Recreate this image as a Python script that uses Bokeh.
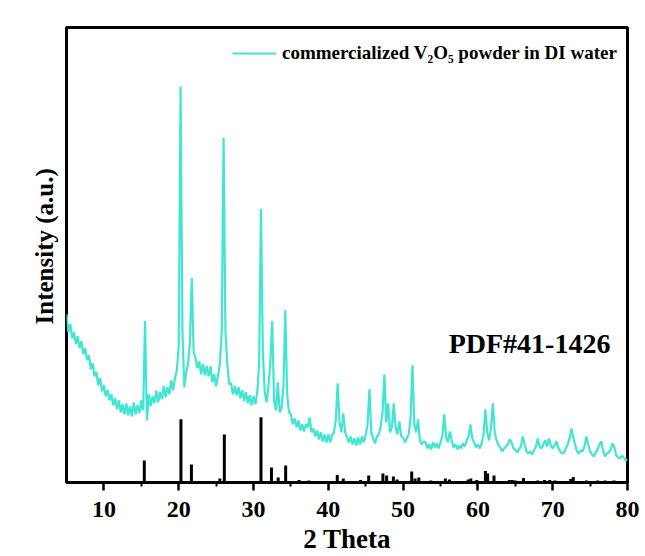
from bokeh.plotting import figure
from bokeh.models import FixedTicker, Label, Legend, LegendItem, Range1d, ColumnDataSource, Title
from bokeh.embed import file_html
from bokeh.resources import INLINE

# ---- data ----
# measured intensity (a.u.) sampled every 0.25 deg from 5 to 80 deg (2 theta)
scan_start = 5.0
scan_step = 0.25
intensity = [
    168, 150, 158, 144,   # 5
    150, 138, 146, 134,   # 6
    141, 128, 134, 122,   # 7
    127, 113, 119, 106,   # 8
    110, 97, 104, 91,     # 9
    97, 86, 92, 82,       # 10
    88, 77, 84, 73,       # 11
    82, 70, 78, 68,       # 12
    79, 67, 76, 66,       # 13
    80, 68, 77, 69,       # 14
    82, 72, 161, 62,      # 15
    88, 76, 86, 79,       # 16
    92, 80, 90, 83,       # 17
    96, 85, 95, 88,       # 18
    102, 92, 104, 112,    # 19
    135, 395, 150, 95,    # 20
    110, 118, 140, 204,   # 21
    130, 124, 114, 121,   # 22
    108, 118, 107, 116,   # 23
    106, 116, 100, 108,   # 24
    96, 106, 118, 150,    # 25
    344, 150, 118, 98,    # 26
    99, 88, 96, 87,       # 27
    95, 84, 92, 81,       # 28
    90, 79, 87, 77,       # 29
    86, 78, 90, 118,      # 30
    273, 130, 90, 80,     # 31
    96, 120, 161, 82,     # 32
    72, 100, 70, 74,      # 33
    95, 172, 88, 70,      # 34
    68, 58, 64, 55,       # 35
    62, 52, 58, 51,       # 36
    58, 55, 65, 50,       # 37
    54, 46, 52, 43,       # 38
    50, 41, 48, 40,       # 39
    48, 40, 47, 50,       # 40
    62, 99, 60, 50,       # 41
    69, 50, 45, 40,       # 42
    46, 38, 44, 37,       # 43
    45, 38, 46, 40,       # 44
    48, 58, 93, 50,       # 45
    44, 39, 46, 48,       # 46
    56, 70, 108, 60,      # 47
    79, 50, 55, 79,       # 48
    55, 48, 61, 46,       # 49
    45, 40, 44, 48,       # 50
    65, 117, 58, 50,      # 51
    63, 42, 38, 41,       # 52
    40, 34, 38, 33,       # 53
    40, 35, 39, 34,       # 54
    40, 46, 68, 45,       # 55
    40, 51, 42, 35,       # 56
    38, 33, 37, 34,       # 57
    39, 36, 42, 46,       # 58
    58, 44, 40, 35,       # 59
    38, 34, 39, 48,       # 60
    73, 50, 42, 55,       # 61
    79, 50, 42, 37,       # 62
    35, 31, 34, 36,       # 63
    38, 43, 40, 34,       # 64
    33, 30, 33, 36,       # 65
    46, 38, 31, 29,       # 66
    31, 28, 32, 36,       # 67
    44, 36, 34, 38,       # 68
    42, 36, 44, 37,       # 69
    34, 37, 41, 35,       # 70
    31, 29, 30, 34,       # 71
    38, 44, 54, 45,       # 72
    38, 31, 29, 32,       # 73
    31, 36, 46, 38,       # 74
    31, 28, 26, 30,       # 75
    33, 38, 41, 31,       # 76
    26, 29, 30, 33,       # 77
    39, 35, 27, 25,       # 78
    24, 27, 25, 22,       # 79
    23,                   # 80
]
two_theta = [scan_start + scan_step * i for i in range(len(intensity))]

# reference pattern PDF#41-1426 (stick positions and relative heights)
pdf_positions = [15.4, 20.3, 21.7, 25.5, 26.1, 31.0, 32.4, 33.3, 34.3, 36.1, 37.4,
                 41.2, 42.0, 44.3, 45.4, 47.3, 47.8, 48.7, 49.2, 51.15, 51.6, 52.1,
                 53.7, 55.65, 56.2, 58.7, 59.05, 59.85, 61.0, 61.3, 62.15, 64.2,
                 64.6, 65.0, 66.1, 68.0, 68.9, 69.6, 70.3, 72.4, 72.75, 74.5, 76.0,
                 77.0, 78.2]
pdf_heights = [22, 63, 18, 4, 48, 65, 15, 5, 17, 2.5, 2,
               7.5, 4, 2.5, 7, 9, 7, 6, 3, 11, 4, 5,
               2, 4, 3, 3, 4, 2.5, 11.5, 9, 7, 2.5,
               2.5, 2, 4.5, 2, 2.5, 2.5, 2, 3.5, 5.5, 2, 2,
               2, 2]

x_major_ticks = [10, 20, 30, 40, 50, 60, 70, 80]
x_minor_ticks = [15, 25, 35, 45, 55, 65, 75]

series_label = "commercialized V\u2082O\u2085 powder in DI water"
pdf_label = "PDF#41-1426"
x_title = "2 Theta"
y_title = "Intensity (a.u.)"

# ---- styling ----
FONT = "Liberation Serif"
CYAN = "#40E6D2"

p = figure(width=645, height=556, output_backend="svg", toolbar_location=None,
           x_range=Range1d(5, 80), y_range=Range1d(0, 454),
           min_border_left=66, min_border_right=18, min_border_top=27, min_border_bottom=74)

p.background_fill_color = "white"
p.border_fill_color = "white"
p.outline_line_color = "black"
p.outline_line_width = 3
p.xgrid.visible = False
p.ygrid.visible = False
p.yaxis.visible = False

xa = p.xaxis[0]
xa.ticker = FixedTicker(ticks=x_major_ticks, minor_ticks=x_minor_ticks)
xa.axis_line_width = 3
xa.axis_line_color = "black"
xa.major_tick_line_width = 2.5
xa.major_tick_in = 0
xa.major_tick_out = 8
xa.minor_tick_line_width = 2
xa.minor_tick_in = 0
xa.minor_tick_out = 4
xa.major_label_text_font = FONT
xa.major_label_text_font_style = "bold"
xa.major_label_text_font_size = "24px"
xa.major_label_text_color = "black"
xa.major_label_text_line_height = 1.0
xa.major_label_standoff = 11
xa.axis_label = x_title
xa.axis_label_text_font = FONT
xa.axis_label_text_font_style = "bold"
xa.axis_label_text_font_size = "27px"
xa.axis_label_text_color = "black"
xa.axis_label_text_line_height = 0.9
xa.axis_label_standoff = 4

p.add_layout(Title(text=y_title, align="left", offset=158, standoff=17,
                   text_font=FONT, text_font_style="bold", text_font_size="25px",
                   text_color="black"), "left")

trace = p.line(two_theta, intensity, line_color=CYAN, line_width=2.2)

sticks = ColumnDataSource(dict(x=pdf_positions, h=pdf_heights))
p.segment(x0="x", y0=0, x1="x", y1="h", source=sticks, line_color="black", line_width=3)

legend = Legend(items=[LegendItem(label=series_label, renderers=[trace])],
                location=(166, 418), margin=0, padding=0, spacing=0,
                glyph_width=44, glyph_height=20, label_standoff=6,
                label_text_font=FONT, label_text_font_style="bold",
                label_text_font_size="19px", label_text_color="black",
                border_line_color=None, background_fill_alpha=0)
p.add_layout(legend)

p.add_layout(Label(x=66.9, y=138.5, text=pdf_label, text_font=FONT, text_font_style="bold",
                   text_font_size="28px", text_align="center", text_baseline="middle",
                   text_color="black"))

open("out.html", "w").write(file_html(p, INLINE))
